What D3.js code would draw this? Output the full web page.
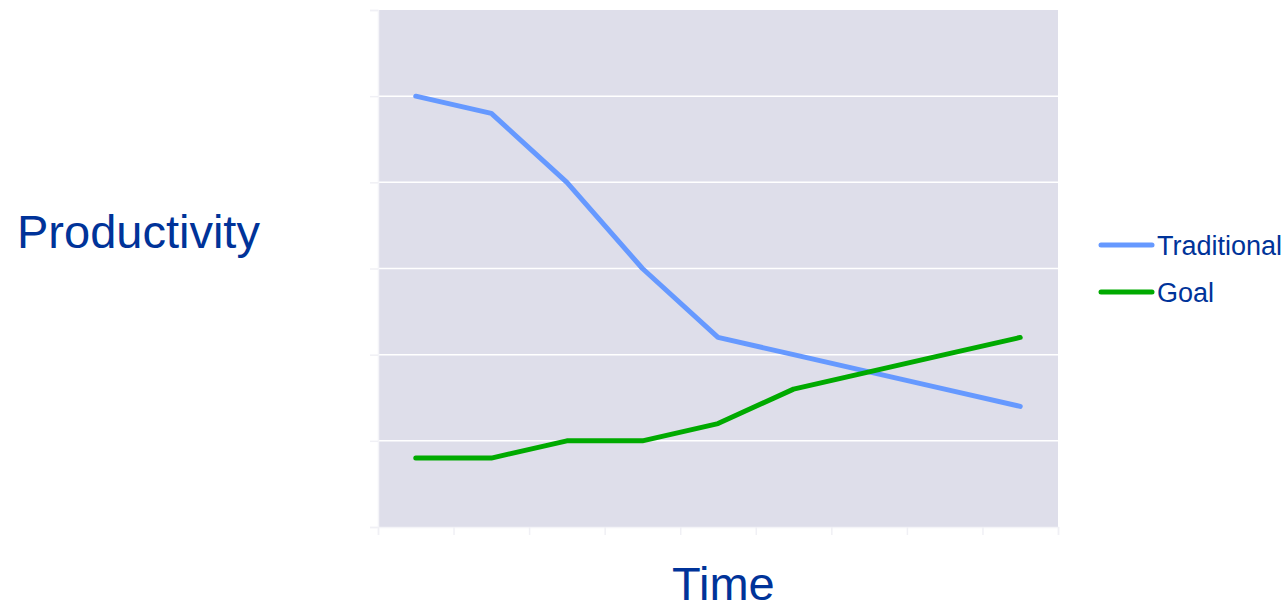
<!DOCTYPE html>
<html><head><meta charset="utf-8">
<script src="https://cdn.jsdelivr.net/npm/d3@7"></script>
<style>body{margin:0;background:#fff}svg{display:block}text{font-family:"Liberation Sans",Arial,sans-serif}</style>
</head><body>
<script>
const categories = [1,2,3,4,5,6,7,8,9];
const traditional = [5.0,4.8,4.0,3.0,2.2,2.0,1.8,1.6,1.4];
const goal = [0.8,0.8,1.0,1.0,1.2,1.6,1.8,2.0,2.2];
const yTicks = [0,1,2,3,4,5,6];
const seriesNames = ["Traditional","Goal"];
const seriesColors = ["#6699ff","#00aa00"];

const W=1285,H=605;
const m={left:378,right:1058,top:10,bottom:527};
const svg=d3.select("body").append("svg").attr("width",W).attr("height",H);
const x=d3.scaleBand().domain(categories).range([m.left,m.right]);
const y=d3.scaleLinear().domain([0,6]).range([m.bottom,m.top]);

svg.append("rect").attr("x",m.left).attr("y",m.top).attr("width",m.right-m.left).attr("height",m.bottom-m.top).attr("fill","#dedeea");

// gridlines
svg.append("g").selectAll("line").data(yTicks.slice(1,-1)).join("line")
 .attr("x1",m.left).attr("x2",m.right).attr("y1",d=>y(d)).attr("y2",d=>y(d))
 .attr("stroke","#ffffff").attr("stroke-width",1.5);

// axes with faint ticks
const yAxis=svg.append("g").attr("transform",`translate(${m.left},0)`).call(d3.axisLeft(y).tickValues(yTicks).tickSize(8).tickFormat(""));
const xb=[...categories.map(c=>x(c)),m.right];
const xAxis=svg.append("g").attr("transform",`translate(0,${m.bottom})`).call(d3.axisBottom(d3.scaleLinear().domain([m.left,m.right]).range([m.left,m.right])).tickValues(xb).tickSize(8).tickFormat(""));
[yAxis,xAxis].forEach(a=>{a.select(".domain").attr("stroke","#f4f4f8").attr("stroke-width",1.5);a.selectAll(".tick line").attr("stroke","#f0f0f5").attr("stroke-width",1.5);});

const line=d3.line().x((d,i)=>x(categories[i])+x.bandwidth()/2).y(d=>y(d));
[traditional,goal].forEach((s,i)=>{
 svg.append("path").datum(s).attr("d",line).attr("fill","none").attr("stroke",seriesColors[i]).attr("stroke-width",5).attr("stroke-linecap","round").attr("stroke-linejoin","round");
});

// legend
const lg=svg.append("g");
seriesNames.forEach((n,i)=>{
 const yy=245+i*47;
 lg.append("line").attr("x1",1101).attr("x2",1152).attr("y1",yy).attr("y2",yy).attr("stroke",seriesColors[i]).attr("stroke-width",5).attr("stroke-linecap","round");
 lg.append("text").attr("x",1157).attr("y",yy+10).attr("font-size",27).attr("fill","#003399").text(n);
});

svg.append("text").attr("x",17).attr("y",248).attr("font-size",47).attr("fill","#003399").text("Productivity");
svg.append("text").attr("x",672).attr("y",600).attr("font-size",47).attr("fill","#003399").text("Time");
</script>
</body></html>
